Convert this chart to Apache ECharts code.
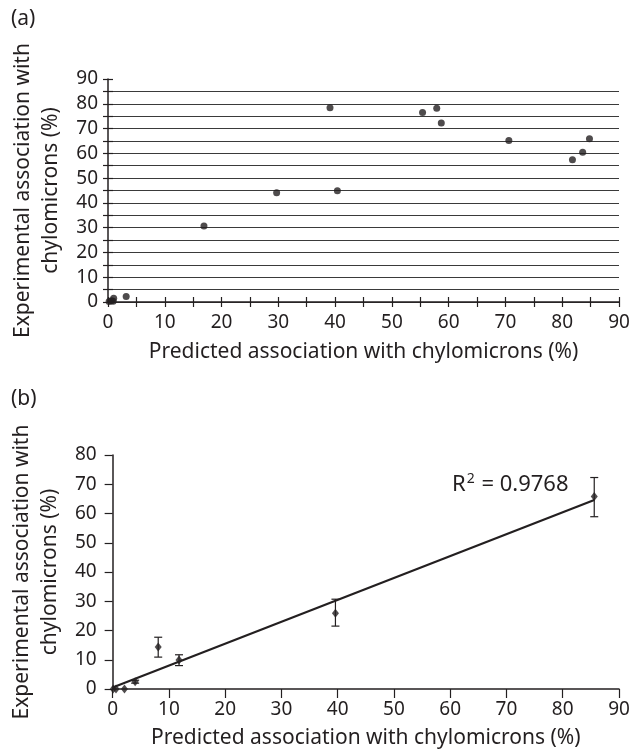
<!DOCTYPE html>
<html>
<head>
<meta charset="utf-8">
<script src="https://cdn.jsdelivr.net/npm/echarts@6/dist/echarts.min.js"></script>
<style>
  html, body { margin: 0; padding: 0; background: #fff; }
  #main { width: 633px; height: 755px; }
</style>
</head>
<body>
<div id="main"></div>
<script>
// (a) predicted vs experimental association, every compound
var predA = [0.2, 0.6, 1.0, 0.9, 3.2, 16.9, 29.7, 40.4, 39.1, 55.4, 57.9, 58.7, 70.6, 81.8, 83.6, 84.8];
var expA  = [0.2, 0.5, 1.5, 0.3, 2.2, 30.7, 44.1, 44.9, 78.4, 76.5, 78.2, 72.2, 65.2, 57.4, 60.4, 65.9];

// (b) mean with error bars
var predB    = [0.1, 0.6, 2.1, 4.0, 8.1, 11.8, 39.6, 85.6];
var expB     = [0.0, 0.0, 0.0, 2.5, 14.4, 9.9, 25.9, 65.8];
var errLowB  = [0.0, 0.0, 0.0, 2.0, 10.9, 8.0, 21.5, 58.9];
var errHighB = [0.0, 0.0, 0.0, 3.0, 17.7, 11.7, 30.7, 72.3];

// trend line ends
var fitX = [0, 85.6];
var fitY = [0.5, 64.6];

var INK = '#231f20';
var FONT = 'Noto Sans';
var xName = 'Predicted association with chylomicrons (%)';
var yName = 'Experimental association with\nchylomicrons (%)';

function zip(a, b) {
  return a.map(function (v, i) { return [v, b[i]]; });
}

function tens(v) {
  return v % 10 === 0 ? String(v) : '';
}

// grid lines of (a) every 5, none on the top edge
var gridColors = [];
for (var i = 0; i < 19; i++) {
  gridColors.push(i === 18 ? 'rgba(0,0,0,0)' : '#3a3a3a');
}

var myChart = echarts.init(document.getElementById('main'));

var option = {
  backgroundColor: '#fff',
  animation: false,
  textStyle: { fontFamily: FONT, color: INK },
  grid: [
    { left: 108, right: 14, top: 79, height: 223 },
    { left: 111, right: 14, top: 455, height: 234 }
  ],
  xAxis: [
    {
      gridIndex: 0, type: 'value', min: 0, max: 90, interval: 5, position: 'bottom',
      name: xName, nameLocation: 'middle', nameGap: 40,
      nameTextStyle: { fontSize: 21, color: INK, fontFamily: FONT },
      axisLine: { lineStyle: { color: INK, width: 1.5 } },
      axisTick: { length: 5, lineStyle: { color: INK, width: 1.2 } },
      axisLabel: { formatter: tens, fontSize: 19, color: INK, margin: 11 },
      splitLine: { show: false }
    },
    {
      // inner half of the crossing ticks
      gridIndex: 0, type: 'value', min: 0, max: 90, interval: 5, position: 'bottom',
      axisLine: { show: false },
      axisTick: { inside: true, length: 5, lineStyle: { color: INK, width: 1.2 } },
      axisLabel: { show: false },
      splitLine: { show: false }
    },
    {
      gridIndex: 1, type: 'value', min: 0, max: 90, interval: 10,
      name: xName, nameLocation: 'middle', nameGap: 39,
      nameTextStyle: { fontSize: 21, color: INK, fontFamily: FONT },
      axisLine: { lineStyle: { color: INK, width: 1.5 } },
      axisTick: { length: 9, lineStyle: { color: INK, width: 1.2 } },
      axisLabel: { fontSize: 19, color: INK, margin: 11 },
      splitLine: { show: false }
    }
  ],
  yAxis: [
    {
      gridIndex: 0, type: 'value', min: 0, max: 90, interval: 5, position: 'left',
      name: yName, nameLocation: 'middle', nameGap: 43, nameRotate: 90,
      nameTextStyle: { fontSize: 21, color: INK, fontFamily: FONT, lineHeight: 28 },
      axisLine: { lineStyle: { color: INK, width: 1.5 } },
      axisTick: { length: 5, lineStyle: { color: INK, width: 1.2 } },
      axisLabel: { formatter: tens, fontSize: 19, color: INK, margin: 10 },
      splitLine: { show: true, showMaxLine: false, lineStyle: { color: gridColors, width: 1.2 } }
    },
    {
      gridIndex: 0, type: 'value', min: 0, max: 90, interval: 5, position: 'left',
      axisLine: { show: false },
      axisTick: { inside: true, length: 5, lineStyle: { color: INK, width: 1.2 } },
      axisLabel: { show: false },
      splitLine: { show: false }
    },
    {
      gridIndex: 1, type: 'value', min: 0, max: 80, interval: 10,
      name: yName, nameLocation: 'middle', nameGap: 46, nameRotate: 90,
      nameTextStyle: { fontSize: 21, color: INK, fontFamily: FONT, lineHeight: 28 },
      axisLine: { lineStyle: { color: INK, width: 1.5 } },
      axisTick: { length: 8, lineStyle: { color: INK, width: 1.2 } },
      axisLabel: { fontSize: 19, color: INK, margin: 16 },
      splitLine: { show: false }
    }
  ],
  graphic: [
    { type: 'text', left: 11, top: 9, style: { text: '(a)', fontSize: 21, fontFamily: FONT, fill: INK } },
    { type: 'text', left: 11, top: 389, style: { text: '(b)', fontSize: 21, fontFamily: FONT, fill: INK } },
    {
      type: 'text', left: 452, top: 472,
      style: {
        text: '{r|R}{s|2}{r| = 0.9768}',
        fontFamily: FONT, fill: INK,
        rich: {
          r: { fontSize: 22, fontFamily: FONT, lineHeight: 26, fill: INK },
          s: { fontSize: 14, fontFamily: FONT, lineHeight: 26, fill: INK, verticalAlign: 'top', padding: [0, 1, 0, 1] }
        }
      }
    }
  ],
  series: [
    {
      name: 'a', type: 'scatter', xAxisIndex: 0, yAxisIndex: 0,
      symbol: 'circle', symbolSize: 7,
      itemStyle: { color: INK },
      data: zip(predA, expA)
    },
    {
      name: 'fit', type: 'line', xAxisIndex: 2, yAxisIndex: 2,
      showSymbol: false, symbol: 'none',
      lineStyle: { color: INK, width: 2.2 },
      data: zip(fitX, fitY)
    },
    {
      name: 'err', type: 'custom', xAxisIndex: 2, yAxisIndex: 2,
      encode: { x: 0, y: [1, 2] },
      renderItem: function (params, api) {
        var lo = api.value(1), hi = api.value(2);
        if (hi - lo <= 0) { return null; }
        var a = api.coord([api.value(0), lo]);
        var b = api.coord([api.value(0), hi]);
        var w = 4;
        var st = { stroke: INK, lineWidth: 1.2 };
        return {
          type: 'group',
          children: [
            { type: 'line', shape: { x1: a[0], y1: a[1], x2: b[0], y2: b[1] }, style: st },
            { type: 'line', shape: { x1: a[0] - w, y1: a[1], x2: a[0] + w, y2: a[1] }, style: st },
            { type: 'line', shape: { x1: b[0] - w, y1: b[1], x2: b[0] + w, y2: b[1] }, style: st }
          ]
        };
      },
      data: predB.map(function (x, i) { return [x, errLowB[i], errHighB[i]]; })
    },
    {
      name: 'b', type: 'scatter', xAxisIndex: 2, yAxisIndex: 2,
      symbol: 'diamond', symbolSize: [7, 9],
      itemStyle: { color: INK },
      data: zip(predB, expB)
    }
  ]
};

myChart.setOption(option);
</script>
</body>
</html>
